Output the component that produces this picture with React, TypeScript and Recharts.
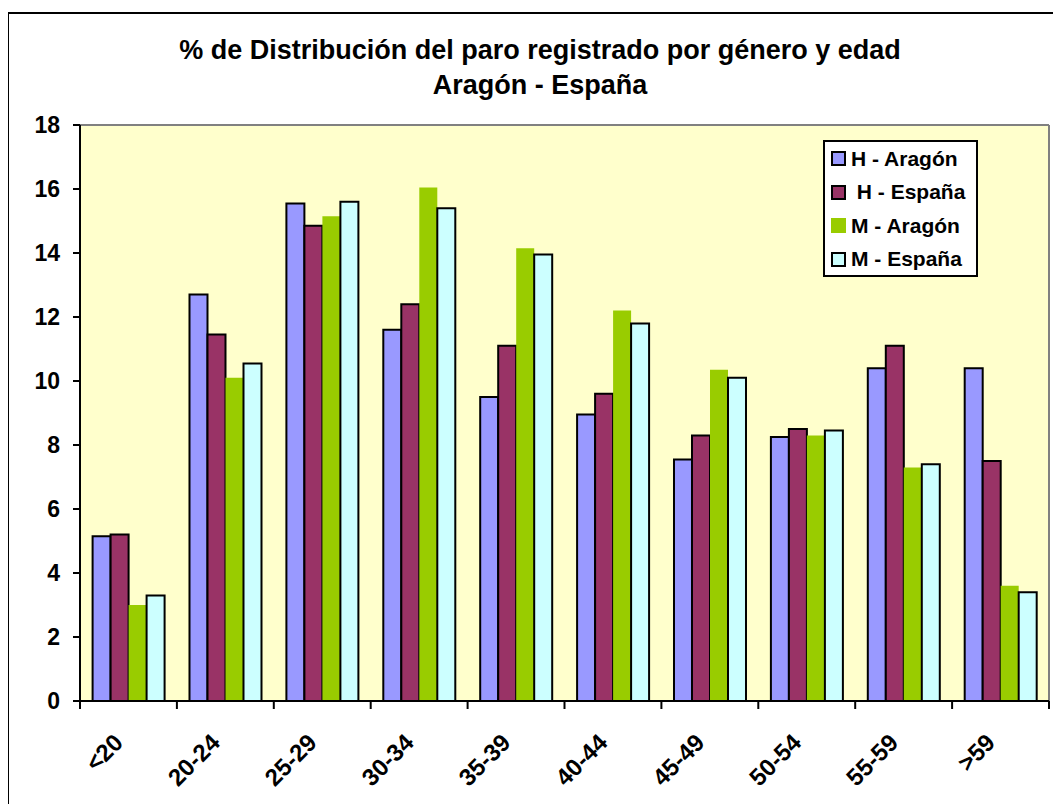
import { Bar, BarChart, CartesianGrid, Legend, ReferenceLine, XAxis, YAxis } from "recharts";

const AGE_GROUPS = ["<20", "20-24", "25-29", "30-34", "35-39", "40-44", "45-49", "50-54", "55-59", ">59"];

const H_ARAGON = [5.15, 12.7, 15.55, 11.6, 9.5, 8.95, 7.55, 8.25, 10.4, 10.4];
const H_ESPANA = [5.2, 11.45, 14.85, 12.4, 11.1, 9.6, 8.3, 8.5, 11.1, 7.5];
const M_ARAGON = [3.0, 10.1, 15.15, 16.05, 14.15, 12.2, 10.35, 8.3, 7.3, 3.6];
const M_ESPANA = [3.3, 10.55, 15.6, 15.4, 13.95, 11.8, 10.1, 8.45, 7.4, 3.4];

const Y_TICKS = [0, 2, 4, 6, 8, 10, 12, 14, 16, 18];

const SERIES = [
  { key: "hAragon", label: "H - Aragón", color: "#9999FF", outline: true },
  { key: "hEspana", label: "\u00a0H - España", color: "#993366", outline: true },
  { key: "mAragon", label: "M - Aragón", color: "#99CC00", outline: false },
  { key: "mEspana", label: "M - España", color: "#CCFFFF", outline: true },
];

const data = AGE_GROUPS.map((g, i) => ({
  group: g,
  hAragon: H_ARAGON[i],
  hEspana: H_ESPANA[i],
  mAragon: M_ARAGON[i],
  mEspana: M_ESPANA[i],
}));

const FONT = "'Liberation Sans', Arial, Helvetica, sans-serif";
const W = 1061;
const H = 812;
const PLOT_W = 969;
const BAND = PLOT_W / AGE_GROUPS.length;

// etiquetas giradas y marcas en los límites de cada categoría (estilo Excel)
const XTick = (props: any) => {
  const { x, y, payload, index } = props;
  const half = BAND / 2;
  const tx = x - 4;
  const ty = y + 43;
  return (
    <g>
      <line x1={x - half} x2={x - half} y1={y} y2={y + 8} stroke="#000" strokeWidth={2} />
      {index === AGE_GROUPS.length - 1 && (
        <line x1={x + half} x2={x + half} y1={y} y2={y + 8} stroke="#000" strokeWidth={2} />
      )}
      <text
        x={tx}
        y={ty}
        transform={`rotate(-45, ${tx}, ${ty})`}
        textAnchor="end"
        fontFamily={FONT}
        fontWeight={700}
        fontSize={24}
        fill="#000"
      >
        {payload.value}
      </text>
    </g>
  );
};

const YTick = (props: any) => {
  const { x, y, payload } = props;
  return (
    <text
      x={x}
      y={y}
      dy="0.36em"
      textAnchor="end"
      fontFamily={FONT}
      fontWeight={700}
      fontSize={23}
      fill="#000"
    >
      {payload.value}
    </text>
  );
};

const renderLegend = () => (
  <div
    style={{
      width: 155,
      height: 137,
      boxSizing: "border-box",
      border: "2px solid #000",
      background: "#fff",
      fontFamily: FONT,
      fontWeight: "bold",
      fontSize: 21,
      color: "#000",
    }}
  >
    {SERIES.map((s) => (
      <div key={s.key} style={{ display: "flex", alignItems: "center", height: 33.5, paddingLeft: 6 }}>
        <span
          style={{
            display: "inline-block",
            flex: "none",
            width: 15,
            height: 15,
            boxSizing: "border-box",
            background: s.color,
            border: s.outline ? "2px solid #000" : "none",
            marginRight: 5,
          }}
        />
        <span style={{ whiteSpace: "pre" }}>{s.label}</span>
      </div>
    ))}
  </div>
);

export default function App() {
  return (
    <div style={{ position: "relative", width: W, height: H, margin: -8, overflow: "hidden", background: "#fff" }}>
      <div
        style={{
          position: "absolute",
          left: 7,
          top: 12,
          width: 1200,
          height: 1000,
          borderLeft: "2px solid #000",
          borderTop: "2px solid #000",
        }}
      />
      <div
        style={{
          position: "absolute",
          left: 40,
          top: 33,
          width: 1000,
          textAlign: "center",
          fontFamily: FONT,
          fontWeight: "bold",
          fontSize: 27,
          lineHeight: "35px",
          color: "#000",
        }}
      >
        % de Distribución del paro registrado por género y edad
        <br />
        Aragón - España
      </div>
      <div style={{ position: "absolute", left: 0, top: 0 }}>
        <BarChart
          width={W}
          height={H}
          data={data}
          margin={{ top: 125, right: W - 80 - PLOT_W, bottom: 0, left: 0 }}
          barCategoryGap="13%"
          barGap={0}
        >
          <CartesianGrid fill="#FFFFCC" horizontal={false} vertical={false} />
          <XAxis
            dataKey="group"
            height={H - 125 - 576}
            tickSize={0}
            tickMargin={0}
            tickLine={false}
            axisLine={{ stroke: "#000", strokeWidth: 2 }}
            tick={<XTick />}
            interval={0}
          />
          <YAxis
            width={80}
            domain={[0, 18]}
            ticks={Y_TICKS}
            interval={0}
            tickSize={7}
            tickMargin={13}
            axisLine={{ stroke: "#000", strokeWidth: 2 }}
            tickLine={{ stroke: "#000", strokeWidth: 2 }}
            tick={<YTick />}
          />
          <ReferenceLine y={18} stroke="#808080" strokeWidth={2} />
          <ReferenceLine x=">59" position="end" stroke="#808080" strokeWidth={2} />
          <Legend
            layout="vertical"
            align="center"
            verticalAlign="middle"
            content={renderLegend}
            wrapperStyle={{ left: 823, top: 140, width: 155, height: 137 }}
          />
          {SERIES.map((s) => (
            <Bar
              key={s.key}
              dataKey={s.key}
              name={s.label}
              fill={s.color}
              stroke={s.outline ? "#000" : "none"}
              strokeWidth={s.outline ? 2 : 0}
              isAnimationActive={false}
            />
          ))}
        </BarChart>
      </div>
    </div>
  );
}
